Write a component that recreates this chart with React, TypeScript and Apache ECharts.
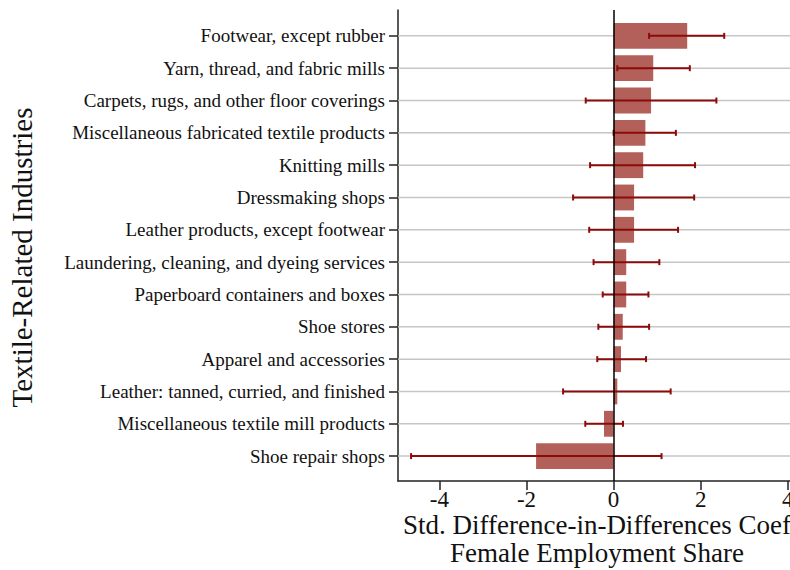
import React, { useEffect, useRef } from "react";
import * as echarts from "echarts";

const categories = [
  "Footwear, except rubber",
  "Yarn, thread, and fabric mills",
  "Carpets, rugs, and other floor coverings",
  "Miscellaneous fabricated textile products",
  "Knitting mills",
  "Dressmaking shops",
  "Leather products, except footwear",
  "Laundering, cleaning, and dyeing services",
  "Paperboard containers and boxes",
  "Shoe stores",
  "Apparel and accessories",
  "Leather: tanned, curried, and finished",
  "Miscellaneous textile mill products",
  "Shoe repair shops",
];
const coef = [1.69, 0.91, 0.86, 0.73, 0.68, 0.47, 0.47, 0.29, 0.29, 0.21, 0.17, 0.085, -0.22, -1.78];
const ciLow = [0.815, 0.085, -0.64, 0.0, -0.54, -0.93, -0.56, -0.46, -0.25, -0.35, -0.375, -1.16, -0.65, -4.65];
const ciHigh = [2.54, 1.75, 2.36, 1.43, 1.87, 1.85, 1.48, 1.05, 0.8, 0.815, 0.745, 1.31, 0.215, 1.1];
const xTicks = [-4, -2, 0, 2, 4];

const FONT = "Liberation Serif";

export default function App() {
  const ref = useRef<HTMLDivElement>(null);
  useEffect(() => {
    if (!ref.current) return;
    const chart = echarts.init(ref.current, null, { renderer: "svg" });
    const idx = categories.map((_, i) => i);
    chart.setOption({
      animation: false,
      backgroundColor: "#ffffff",
      grid: { left: 398, right: 0, top: 10, bottom: 89, containLabel: false, outerBoundsMode: "none" },
      xAxis: {
        type: "value",
        min: -4.95,
        max: 4.05,
        axisLine: { show: true, onZero: false, lineStyle: { color: "#222", width: 1.5 } },
        axisTick: { show: true, length: 9, customValues: xTicks, lineStyle: { color: "#222", width: 1.5 } },
        axisLabel: {
          customValues: xTicks,
          fontFamily: FONT,
          fontSize: 23,
          lineHeight: 16,
          color: "#111",
          margin: 10,
          formatter: (v: number) => String(v),
        },
        splitLine: { show: false },
        name: "Std. Difference-in-Differences Coef\nFemale Employment Share",
        nameLocation: "middle",
        nameGap: 30,
        nameMoveOverlap: false,
        nameTextStyle: {
          fontFamily: FONT,
          fontSize: 27,
          color: "#111",
          lineHeight: 28,
          verticalAlign: "top",
          padding: [0, 0, 0, 6],
        },
      },
      yAxis: {
        type: "value",
        inverse: true,
        min: -0.8,
        max: 13.77,
        axisLine: { show: true, onZero: false, lineStyle: { color: "#222", width: 1.5 } },
        axisTick: { show: true, length: 9, customValues: idx, lineStyle: { color: "#222", width: 1.5 } },
        axisLabel: {
          customValues: idx,
          fontFamily: FONT,
          fontSize: 19,
          color: "#111",
          margin: 13,
          formatter: (v: number) => categories[Math.round(v)] ?? "",
        },
        splitLine: { show: false },
        name: "Textile-Related Industries",
        nameLocation: "middle",
        nameRotate: 90,
        nameGap: 362,
        nameMoveOverlap: false,
        nameTextStyle: { fontFamily: FONT, fontSize: 29, color: "#111", padding: [0, 24, 0, 0] },
      },
      series: [
        {
          type: "custom",
          name: "grid",
          z: 1,
          silent: true,
          data: idx.map((i) => [0, i]),
          renderItem: (params: any, api: any) => {
            const y = api.coord([0, api.value(1)])[1];
            const cs = params.coordSys;
            return {
              type: "line",
              shape: { x1: cs.x, y1: y, x2: cs.x + cs.width, y2: y },
              style: { stroke: "#c6c6c6", lineWidth: 1.5 },
            };
          },
          markLine: {
            silent: true,
            symbol: ["none", "none"],
            label: { show: false },
            lineStyle: { color: "#000", width: 1.5, type: "solid" },
            data: [{ xAxis: 0 }],
          },
        },
        {
          type: "custom",
          name: "coef",
          z: 2,
          data: idx.map((i) => [coef[i], i]),
          renderItem: (params: any, api: any) => {
            const v = api.value(0);
            const i = api.value(1);
            const p0 = api.coord([0, i]);
            const p1 = api.coord([v, i]);
            const band = api.size([0, 1])[1];
            const h = band * 0.8;
            return {
              type: "rect",
              shape: { x: Math.min(p0[0], p1[0]), y: p0[1] - h / 2, width: Math.abs(p1[0] - p0[0]), height: h },
              style: { fill: "#b3605a" },
            };
          },
        },
        {
          type: "custom",
          name: "ci",
          z: 3,
          data: idx.map((i) => [ciLow[i], ciHigh[i], i]),
          renderItem: (params: any, api: any) => {
            const i = api.value(2);
            const a = api.coord([api.value(0), i]);
            const b = api.coord([api.value(1), i]);
            const c = 3;
            const st = { stroke: "#8b0a0a", lineWidth: 2 };
            return {
              type: "group",
              children: [
                { type: "line", shape: { x1: a[0], y1: a[1], x2: b[0], y2: b[1] }, style: st },
                { type: "line", shape: { x1: a[0], y1: a[1] - c, x2: a[0], y2: a[1] + c }, style: st },
                { type: "line", shape: { x1: b[0], y1: b[1] - c, x2: b[0], y2: b[1] + c }, style: st },
              ],
            };
          },
        },
      ],
    });
    return () => chart.dispose();
  }, []);
  return (
    <div
      ref={ref}
      style={{ position: "absolute", left: 0, top: 0, width: 790, height: 570 }}
    />
  );
}
